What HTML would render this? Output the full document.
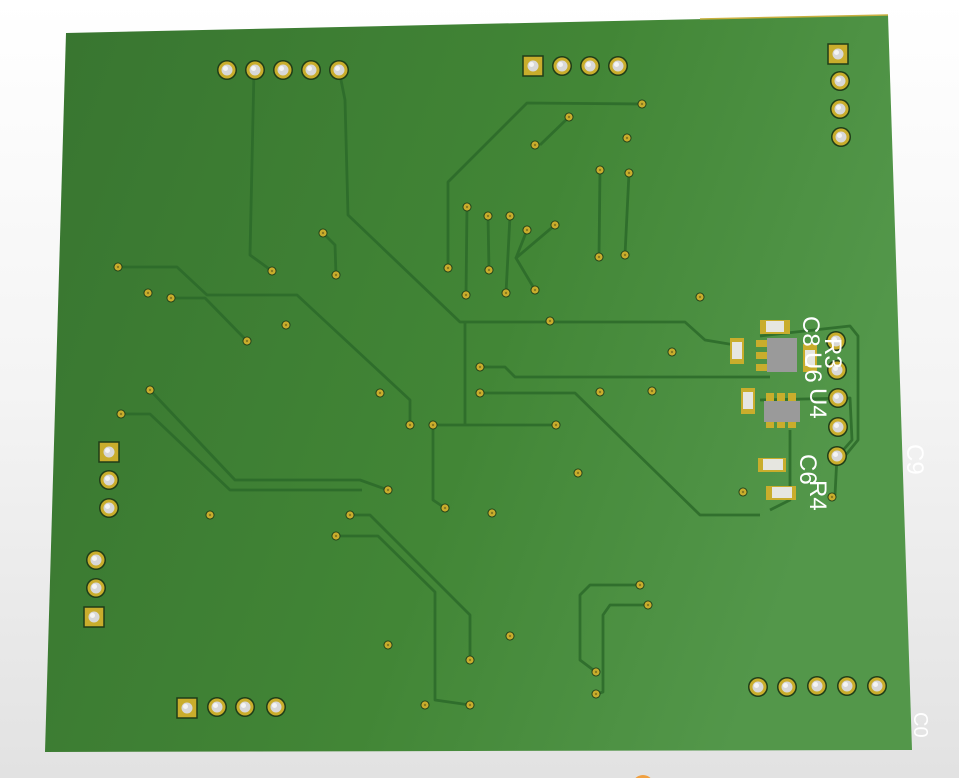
<!DOCTYPE html>
<html><head><meta charset="utf-8"><style>
html,body{margin:0;padding:0;width:959px;height:778px;overflow:hidden;background:#fff}
svg{display:block}
</style></head><body>
<svg width="959" height="778" viewBox="0 0 959 778" xmlns="http://www.w3.org/2000/svg">
<defs>
<linearGradient id="bg" x1="0" y1="0" x2="0" y2="1"><stop offset="0" stop-color="#ffffff"/><stop offset="0.5" stop-color="#f4f4f4"/><stop offset="1" stop-color="#e2e2e2"/></linearGradient>
<linearGradient id="brd" x1="0" y1="0" x2="1" y2="0.3"><stop offset="0" stop-color="#387530"/><stop offset="0.6" stop-color="#428636"/><stop offset="1" stop-color="#53974a"/></linearGradient>
<g id="tp"><circle r="10" fill="#1f3d18"/><circle r="8.5" fill="#c9ad2c"/><circle r="5.5" fill="#d8d8d8"/><circle cx="-1.5" cy="-1.5" r="2.5" fill="#f4f4f4"/></g>
<g id="sp"><rect x="-10" y="-10" width="20" height="20" fill="#c9ad2c" stroke="#1f3d18" stroke-width="1.5"/><circle r="5.5" fill="#d8d8d8"/><circle cx="-1.5" cy="-1.5" r="2.5" fill="#f4f4f4"/></g>
<g id="v"><circle r="4.5" fill="#1f3d18"/><circle r="3.6" fill="#c9ad2c"/><circle r="1.2" fill="#8a7a20"/></g>
</defs>
<rect width="959" height="778" fill="url(#bg)"/>
<polygon points="66,33 888,15 912,750 45,752" fill="url(#brd)"/>
<line x1="700" y1="19" x2="888" y2="15" stroke="#c9b040" stroke-width="1.5"/>
<g fill="none" stroke="#2c6a2a" stroke-width="2.8" stroke-linejoin="round" opacity="0.85">
<path d="M254,70 L250,255 L272,271"/>
<path d="M339,70 L345,100 L348,215 L460,322 L685,322 L705,340 L735,345"/>
<path d="M642,104 L527,103 L448,182 L448,268"/>
<path d="M569,117 L540,145"/>
<path d="M467,207 L466,295"/><path d="M488,216 L489,270"/><path d="M510,216 L506,293"/>
<path d="M555,225 L516,258 L535,290"/><path d="M527,230 L516,258"/>
<path d="M600,170 L599,257"/><path d="M629,173 L625,255"/>
<path d="M118,267 L177,267 L207,295 L297,295 L410,400 L410,425"/>
<path d="M171,298 L205,298 L247,341"/>
<path d="M323,233 L335,245 L336,275"/>
<path d="M465,322 L465,425"/><path d="M433,425 L556,425"/>
<path d="M480,367 L505,367 L515,377 L770,377"/>
<path d="M480,393 L575,393 L700,515 L760,515"/>
<path d="M433,425 L433,500 L445,508"/>
<path d="M150,390 L235,480 L360,480 L388,490"/>
<path d="M121,414 L150,414 L230,490 L362,490"/>
<path d="M350,515 L370,515 L470,615 L470,660"/>
<path d="M336,536 L378,536 L435,592 L435,700 L470,705"/>
<path d="M640,585 L590,585 L580,595 L580,660 L596,672"/>
<path d="M648,605 L610,605 L603,615 L603,692 L596,694"/>
<path d="M760,336 L850,326 L858,336 L858,440 L845,456"/>
<path d="M760,400 L850,398 L852,440 L838,456"/>
<path d="M790,430 L790,500 L770,510"/>
<path d="M837,456 L835,495"/>
</g>
<g>
<use href="#tp" x="227" y="70"/><use href="#tp" x="255" y="70"/><use href="#tp" x="283" y="70"/><use href="#tp" x="311" y="70"/><use href="#tp" x="339" y="70"/>
<use href="#sp" x="533" y="66"/><use href="#tp" x="562" y="66"/><use href="#tp" x="590" y="66"/><use href="#tp" x="618" y="66"/>
<use href="#sp" x="838" y="54"/><use href="#tp" x="840" y="81"/><use href="#tp" x="840" y="109"/><use href="#tp" x="841" y="137"/>
<use href="#sp" x="109" y="452"/><use href="#tp" x="109" y="480"/><use href="#tp" x="109" y="508"/>
<use href="#tp" x="96" y="560"/><use href="#tp" x="96" y="588"/><use href="#sp" x="94" y="617"/>
<use href="#sp" x="187" y="708"/><use href="#tp" x="217" y="707"/><use href="#tp" x="245" y="707"/><use href="#tp" x="276" y="707"/>
<use href="#tp" x="758" y="687"/><use href="#tp" x="787" y="687"/><use href="#tp" x="817" y="686"/><use href="#tp" x="847" y="686"/><use href="#tp" x="877" y="686"/>
<use href="#tp" x="836" y="341"/><use href="#tp" x="837" y="370"/><use href="#tp" x="838" y="398"/><use href="#tp" x="838" y="427"/><use href="#tp" x="837" y="456"/>
</g>
<g>
<use href="#v" x="118" y="267"/><use href="#v" x="148" y="293"/><use href="#v" x="171" y="298"/><use href="#v" x="247" y="341"/><use href="#v" x="286" y="325"/><use href="#v" x="272" y="271"/><use href="#v" x="323" y="233"/><use href="#v" x="336" y="275"/><use href="#v" x="380" y="393"/><use href="#v" x="410" y="425"/><use href="#v" x="433" y="425"/><use href="#v" x="556" y="425"/><use href="#v" x="150" y="390"/><use href="#v" x="121" y="414"/><use href="#v" x="388" y="490"/><use href="#v" x="350" y="515"/><use href="#v" x="336" y="536"/><use href="#v" x="210" y="515"/><use href="#v" x="445" y="508"/><use href="#v" x="492" y="513"/><use href="#v" x="578" y="473"/><use href="#v" x="388" y="645"/><use href="#v" x="470" y="660"/><use href="#v" x="510" y="636"/><use href="#v" x="425" y="705"/><use href="#v" x="470" y="705"/><use href="#v" x="596" y="672"/><use href="#v" x="596" y="694"/><use href="#v" x="640" y="585"/><use href="#v" x="648" y="605"/><use href="#v" x="642" y="104"/><use href="#v" x="569" y="117"/><use href="#v" x="535" y="145"/><use href="#v" x="627" y="138"/><use href="#v" x="467" y="207"/><use href="#v" x="488" y="216"/><use href="#v" x="510" y="216"/><use href="#v" x="555" y="225"/><use href="#v" x="527" y="230"/><use href="#v" x="448" y="268"/><use href="#v" x="466" y="295"/><use href="#v" x="489" y="270"/><use href="#v" x="506" y="293"/><use href="#v" x="535" y="290"/><use href="#v" x="600" y="170"/><use href="#v" x="629" y="173"/><use href="#v" x="599" y="257"/><use href="#v" x="625" y="255"/><use href="#v" x="550" y="321"/><use href="#v" x="700" y="297"/><use href="#v" x="672" y="352"/><use href="#v" x="480" y="367"/><use href="#v" x="480" y="393"/><use href="#v" x="600" y="392"/><use href="#v" x="652" y="391"/><use href="#v" x="743" y="492"/><use href="#v" x="832" y="497"/>
</g>
<g>
<rect x="760" y="320" width="30" height="14" fill="#c9ad2c"/><rect x="766" y="321" width="18" height="11" fill="#e6e6e0"/>
<rect x="730" y="338" width="14" height="26" fill="#c9ad2c"/><rect x="732" y="342" width="10" height="17" fill="#e6e6e0"/>
<rect x="756" y="340" width="40" height="7" fill="#c9ad2c"/><rect x="756" y="352" width="40" height="7" fill="#c9ad2c"/><rect x="756" y="364" width="40" height="7" fill="#c9ad2c"/>
<rect x="767" y="338" width="30" height="34" fill="#9a9a9a"/>
<rect x="803" y="344" width="14" height="28" fill="#c9ad2c"/><rect x="805" y="350" width="10" height="16" fill="#e6e6e0"/>
<rect x="741" y="388" width="14" height="26" fill="#c9ad2c"/><rect x="743" y="392" width="10" height="17" fill="#e6e6e0"/>
<rect x="766" y="393" width="8" height="35" fill="#c9ad2c"/><rect x="777" y="393" width="8" height="35" fill="#c9ad2c"/><rect x="788" y="393" width="8" height="35" fill="#c9ad2c"/>
<rect x="764" y="401" width="36" height="21" fill="#9a9a9a"/>
<rect x="758" y="458" width="28" height="14" fill="#c9ad2c"/><rect x="763" y="459" width="20" height="11" fill="#e6e6e0"/>
<rect x="766" y="486" width="30" height="14" fill="#c9ad2c"/><rect x="772" y="487" width="20" height="11" fill="#e6e6e0"/>
</g>
<g fill="#ffffff" font-family="Liberation Sans, sans-serif" font-size="24">
<text transform="translate(803,316) rotate(90)">C8</text>
<text transform="translate(825,338) rotate(90)">R3</text>
<text transform="translate(805,352) rotate(90)">U6</text>
<text transform="translate(810,388) rotate(90)">U4</text>
<text transform="translate(800,454) rotate(90)">C6</text>
<text transform="translate(810,480) rotate(90)">R4</text>
<text transform="translate(907,444) rotate(90)">C9</text>
<text transform="translate(914,712) rotate(90)" font-size="20">C0</text>
</g>
<circle cx="643" cy="786" r="11" fill="#f0a040"/>
</svg>
</body></html>
